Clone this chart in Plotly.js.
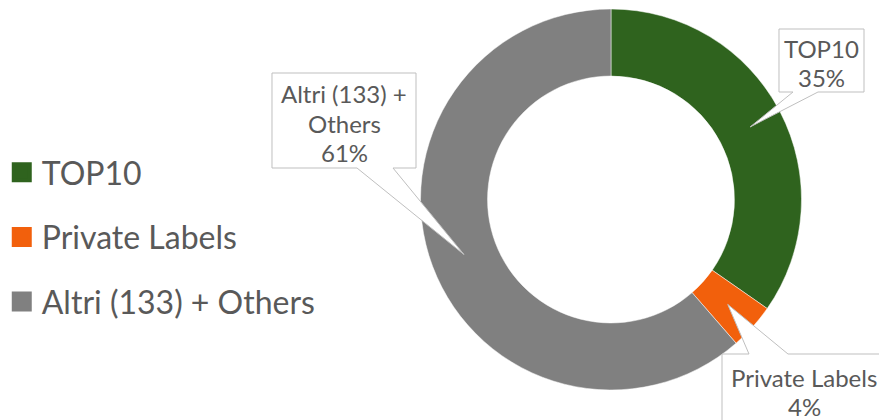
<!DOCTYPE html>
<html>
<head>
<meta charset="utf-8">
<script src="https://cdn.plot.ly/plotly-3.0.1.min.js"></script>
<style>html,body{margin:0;padding:0;background:#fff;}#chart{width:879px;height:420px;}</style>
</head>
<body>
<div id="chart"></div>
<script>
// ---- data ----
const labels = ["TOP10", "Private Labels", "Altri (133) + Others"];
const values = [34.7, 3.9, 61.4];
const colors = ["#2f631e", "#f2600c", "#808080"];

// ---- layout constants ----
const W = 879, H = 420;
const cx = 611, cy = 199.5, R = 190.5, HOLE = 0.648;
const domX = [(cx - R) / W, (cx + R) / W];
const domY = [1 - (cy + R) / H, 1 - (cy - R) / H];

const textColor = "#595959";
const FONT = "Lato, 'Open Sans', sans-serif";
const CALLOUT_SIZE = 24, LINE_GAP = 29;

// callout boxes (pixel layout): left, top, right, bottom, side of wedge, wedge base [a,b], text centre
const boxes = [
  {l: 779, t: 29, r: 864, b: 92, side: "bottom", w: [793, 818], tx: 821, ty: 63},
  {l: 722, t: 354, r: 886, b: 440, side: "top", w: [749, 788], tx: 804, ty: 391.5},
  {l: 272, t: 73, r: 416, b: 168, side: "bottom", w: [357, 393], tx: 344, ty: 123}
];

const total = values.reduce((a, b) => a + b, 0);
const px = x => x / W;
const py = y => 1 - y / H;

function wrap(s, maxChars) {
  const words = s.split(" ");
  const lines = [];
  let cur = "";
  words.forEach(w => {
    const cand = cur ? cur + " " + w : w;
    if (cand.length > maxChars && cur) { lines.push(cur); cur = w; }
    else cur = cand;
  });
  if (cur) lines.push(cur);
  return lines;
}

const shapes = [];
const annotations = [];
let cum = 0;
values.forEach((v, i) => {
  const mid = (cum + v / 2) / total * 2 * Math.PI;
  cum += v;
  const rm = R * (1 + HOLE) / 2;
  const tipX = cx + rm * Math.sin(mid);
  const tipY = cy - rm * Math.cos(mid);
  const b = boxes[i];
  let pts;
  if (b.side === "bottom") {
    pts = [[b.l, b.t], [b.r, b.t], [b.r, b.b], [b.w[1], b.b], [tipX, tipY], [b.w[0], b.b], [b.l, b.b]];
  } else {
    pts = [[b.l, b.t], [b.w[0], b.t], [tipX, tipY], [b.w[1], b.t], [b.r, b.t], [b.r, b.b], [b.l, b.b]];
  }
  const path = pts.map((p, k) => (k ? "L" : "M") + px(p[0]).toFixed(5) + "," + py(p[1]).toFixed(5)).join(" ") + " Z";
  shapes.push({type: "path", xref: "paper", yref: "paper", path: path,
    fillcolor: "#ffffff", line: {color: "#bfbfbf", width: 1}, layer: "above"});
  const pct = Math.round(v / total * 100) + "%";
  const lines = wrap(labels[i], 14).concat([pct]);
  const y0 = b.ty - (lines.length - 1) * LINE_GAP / 2;
  lines.forEach((ln, k) => {
    annotations.push({xref: "paper", yref: "paper", x: px(b.tx), y: py(y0 + k * LINE_GAP),
      xanchor: "center", yanchor: "middle", showarrow: false,
      text: ln, font: {family: FONT, size: CALLOUT_SIZE, color: textColor}});
  });
});

const traces = [{
  type: "pie",
  labels: labels,
  values: values,
  sort: false,
  direction: "clockwise",
  rotation: 0,
  hole: HOLE,
  marker: {colors: colors, line: {color: "#ffffff", width: 0.5}},
  textinfo: "none",
  hoverinfo: "label+percent",
  showlegend: false,
  domain: {x: domX, y: domY}
}];
labels.forEach((l, i) => {
  traces.push({
    type: "scatter", mode: "markers", x: [null], y: [null], name: l,
    legendgroup: "g" + i,
    marker: {symbol: "square", size: 16, color: colors[i], line: {color: colors[i], width: 4}},
    showlegend: true, hoverinfo: "skip"
  });
});

const layout = {
  width: W, height: H,
  margin: {l: 0, r: 0, t: 0, b: 0},
  paper_bgcolor: "#ffffff", plot_bgcolor: "#ffffff",
  xaxis: {visible: false}, yaxis: {visible: false},
  showlegend: true,
  legend: {x: 0.002, xanchor: "left", y: py(237), yanchor: "middle",
    font: {family: FONT, size: 32, color: textColor},
    tracegroupgap: 20, itemwidth: 30, bgcolor: "rgba(0,0,0,0)"},
  shapes: shapes,
  annotations: annotations
};

Plotly.newPlot("chart", traces, layout, {displayModeBar: false, staticPlot: true});
</script>
</body>
</html>
